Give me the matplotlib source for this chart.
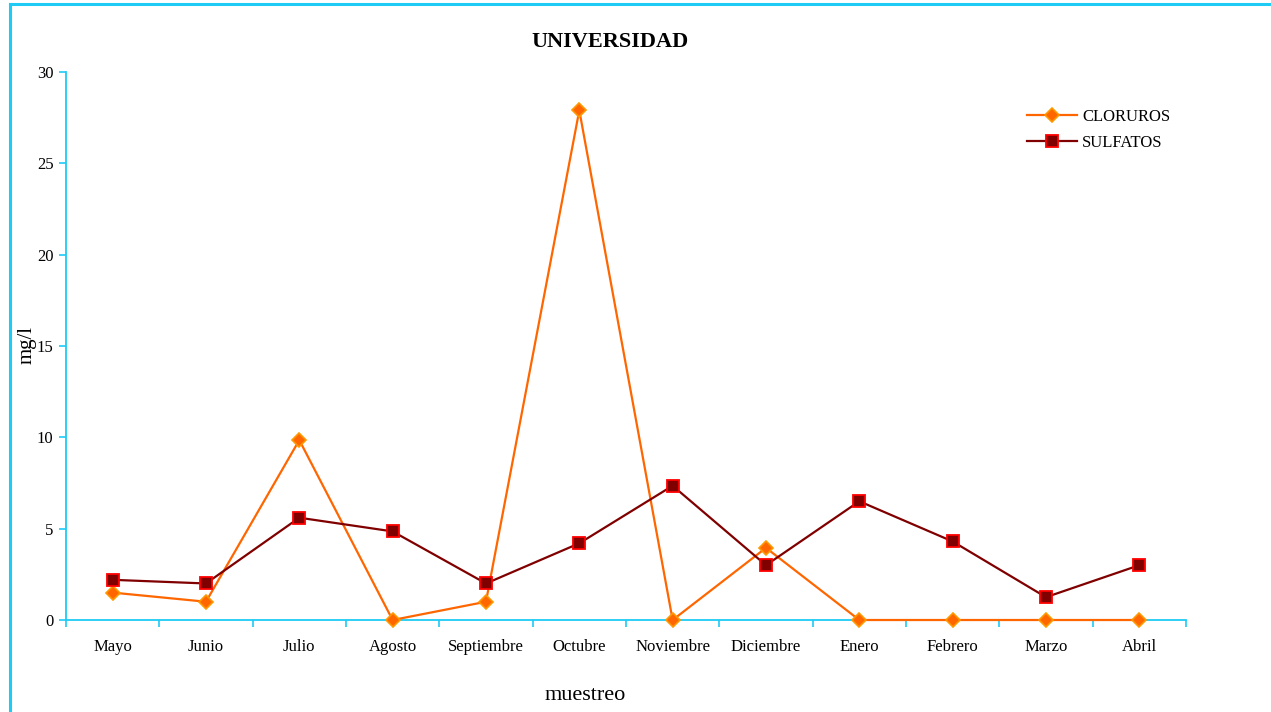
import matplotlib.pyplot as plt
from matplotlib.lines import Line2D

plt.rcParams["font.family"] = ["Liberation Serif", "DejaVu Serif"]

meses = ["Mayo", "Junio", "Julio", "Agosto", "Septiembre", "Octubre",
         "Noviembre", "Diciembre", "Enero", "Febrero", "Marzo", "Abril"]
cloruros = [1.5, 1.0, 9.85, 0.0, 1.0, 27.9, 0.0, 3.95, 0.0, 0.0, 0.0, 0.0]
sulfatos = [2.2, 2.0, 5.6, 4.85, 2.0, 4.2, 7.35, 3.0, 6.5, 4.3, 1.25, 3.0]

CYAN = "#1ECBF5"

fig = plt.figure(figsize=(12.71, 7.12), dpi=100)
ax = fig.add_axes([0.0519, 0.1292, 0.8812, 0.7697])

x = list(range(len(meses)))
ax.plot(x, cloruros, color="#FF6600", lw=1.6, marker="D", ms=7,
        mfc="#FF6600", mec="#FF9900", mew=1.2, label="CLORUROS", clip_on=False, zorder=3)
ax.plot(x, sulfatos, color="#800000", lw=1.6, marker="s", ms=8,
        mfc="#800000", mec="#FF0000", mew=1.3, label="SULFATOS", clip_on=False, zorder=3)

ax.set_xlim(-0.5, len(meses) - 0.5)
ax.set_ylim(0, 30)
ax.set_yticks(range(0, 31, 5))
ax.set_xticks(x)
ax.set_xticklabels(meses, fontsize=12)
ax.set_xticks([i - 0.5 for i in range(len(meses) + 1)], minor=True)
ax.tick_params(axis="x", which="major", length=0, pad=14)
ax.tick_params(axis="x", which="minor", length=5, color=CYAN, width=1.2)
ax.tick_params(axis="y", length=5, color=CYAN, width=1.2, labelsize=12, pad=4)

for s in ("top", "right"):
    ax.spines[s].set_visible(False)
for s in ("left", "bottom"):
    ax.spines[s].set_color(CYAN)
    ax.spines[s].set_linewidth(1.3)

fig.text(610 / 1271, 1 - 42 / 712, "UNIVERSIDAD", fontsize=16, fontweight="bold",
         ha="center", va="center")
ax.set_xlabel("muestreo", fontsize=16)
ax.xaxis.set_label_coords((585 - 66) / 1120, -(695 - 620) / 548)
ax.xaxis.label.set_va("center")
ax.set_ylabel("mg/l", fontsize=15)
ax.yaxis.set_label_coords(-(66 - 27) / 1120, (620 - 345) / 548)
ax.yaxis.label.set_va("center")

ax.legend(frameon=False, fontsize=12, loc="upper left",
          bbox_to_anchor=(0.845, 0.96), handlelength=3.0, labelspacing=0.6,
          handletextpad=0.3)

# outer chart frame
fig.add_artist(Line2D([0.0075, 0.0075], [0, 0.994], color=CYAN, lw=2.2))
fig.add_artist(Line2D([0.0075, 1.0], [0.994, 0.994], color=CYAN, lw=2.2))

fig.savefig("out.png", dpi=100)
